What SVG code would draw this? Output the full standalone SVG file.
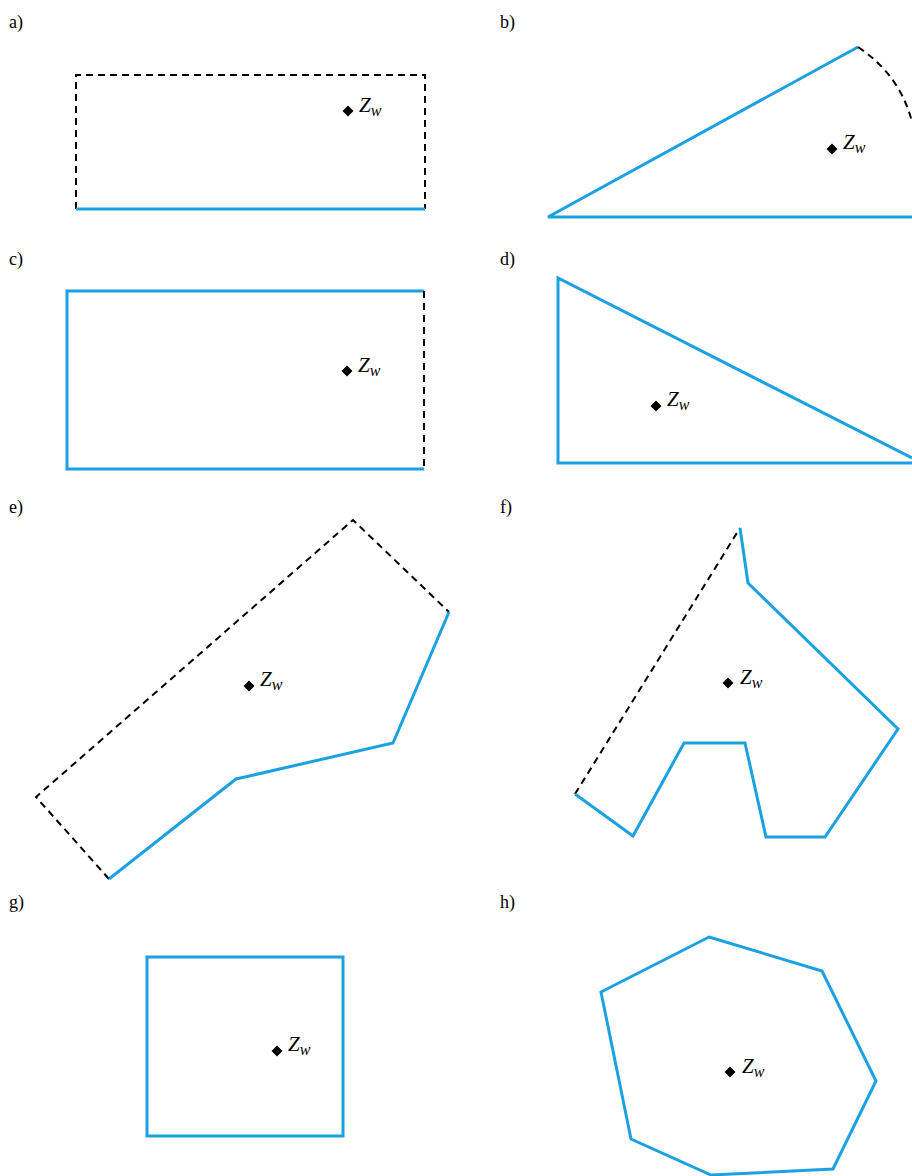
<svg xmlns="http://www.w3.org/2000/svg" width="912" height="1176" viewBox="0 0 912 1176">
<defs>
<style>
.lbl{font-family:"Liberation Serif","Times New Roman",serif;font-size:18px;fill:#000}
.z{font-family:"Liberation Serif","Times New Roman",serif;font-style:italic;font-size:21px;fill:#000}
.sub{font-size:16px}
.b{fill:none;stroke:#1BA1E2;stroke-width:3;stroke-linejoin:miter;stroke-linecap:butt}
.d{fill:none;stroke:#000;stroke-width:2;stroke-dasharray:7,5}
.dm{fill:#000}
</style>
<path id="dia" d="M0,-5.5 L5.5,0 L0,5.5 L-5.5,0 Z"/>
</defs>
<rect width="912" height="1176" fill="#fff"/>

<g id="panel-a">
<text class="lbl" x="9" y="28">a)</text>
<path class="d" d="M76,209 V75 H425 V209"/>
<path class="b" d="M76,209 H425"/>
<use href="#dia" class="dm" x="348" y="111"/>
<text class="z" x="359" y="112">Z<tspan class="sub" dy="4">w</tspan></text>
</g>

<g id="panel-b">
<text class="lbl" x="500" y="28">b)</text>
<path class="b" d="M912,217 H548 L858,47"/>
<path class="d" d="M858,47 Q900,75 912,122"/>
<use href="#dia" class="dm" x="832" y="149"/>
<text class="z" x="843" y="149">Z<tspan class="sub" dy="4">w</tspan></text>
</g>

<g id="panel-c">
<text class="lbl" x="9" y="265">c)</text>
<path class="b" d="M424,469 H67 V291 H424"/>
<path class="d" d="M424,291 V469"/>
<use href="#dia" class="dm" x="347" y="371"/>
<text class="z" x="358" y="372">Z<tspan class="sub" dy="4">w</tspan></text>
</g>

<g id="panel-d">
<text class="lbl" x="500" y="265">d)</text>
<path class="b" d="M912,458 L558,278 V463 H912"/>
<use href="#dia" class="dm" x="656" y="406"/>
<text class="z" x="667" y="406">Z<tspan class="sub" dy="4">w</tspan></text>
</g>

<g id="panel-e">
<text class="lbl" x="9" y="513">e)</text>
<path class="d" d="M109,879 L36,797 L353,520 L449,612"/>
<path class="b" d="M449,612 L393,743 L236,779 L109,879"/>
<use href="#dia" class="dm" x="249" y="686"/>
<text class="z" x="260" y="686">Z<tspan class="sub" dy="4">w</tspan></text>
</g>

<g id="panel-f">
<text class="lbl" x="500" y="513">f)</text>
<path class="d" d="M575,794 L740,528"/>
<path class="b" d="M740,528 L748,583 L898,729 L825,837 L766,837 L745,743 L684,743 L633,836 L575,794"/>
<use href="#dia" class="dm" x="728" y="683"/>
<text class="z" x="740" y="684">Z<tspan class="sub" dy="4">w</tspan></text>
</g>

<g id="panel-g">
<text class="lbl" x="9" y="908">g)</text>
<path class="b" d="M147,957 H343 V1136 H147 Z"/>
<use href="#dia" class="dm" x="277" y="1051"/>
<text class="z" x="288" y="1051">Z<tspan class="sub" dy="4">w</tspan></text>
</g>

<g id="panel-h">
<text class="lbl" x="500" y="908">h)</text>
<path class="b" d="M709,937 L822,971 L876,1081 L833,1169 L711,1175 L631,1139 L601,992 Z"/>
<use href="#dia" class="dm" x="730" y="1072"/>
<text class="z" x="742" y="1073">Z<tspan class="sub" dy="4">w</tspan></text>
</g>
</svg>
